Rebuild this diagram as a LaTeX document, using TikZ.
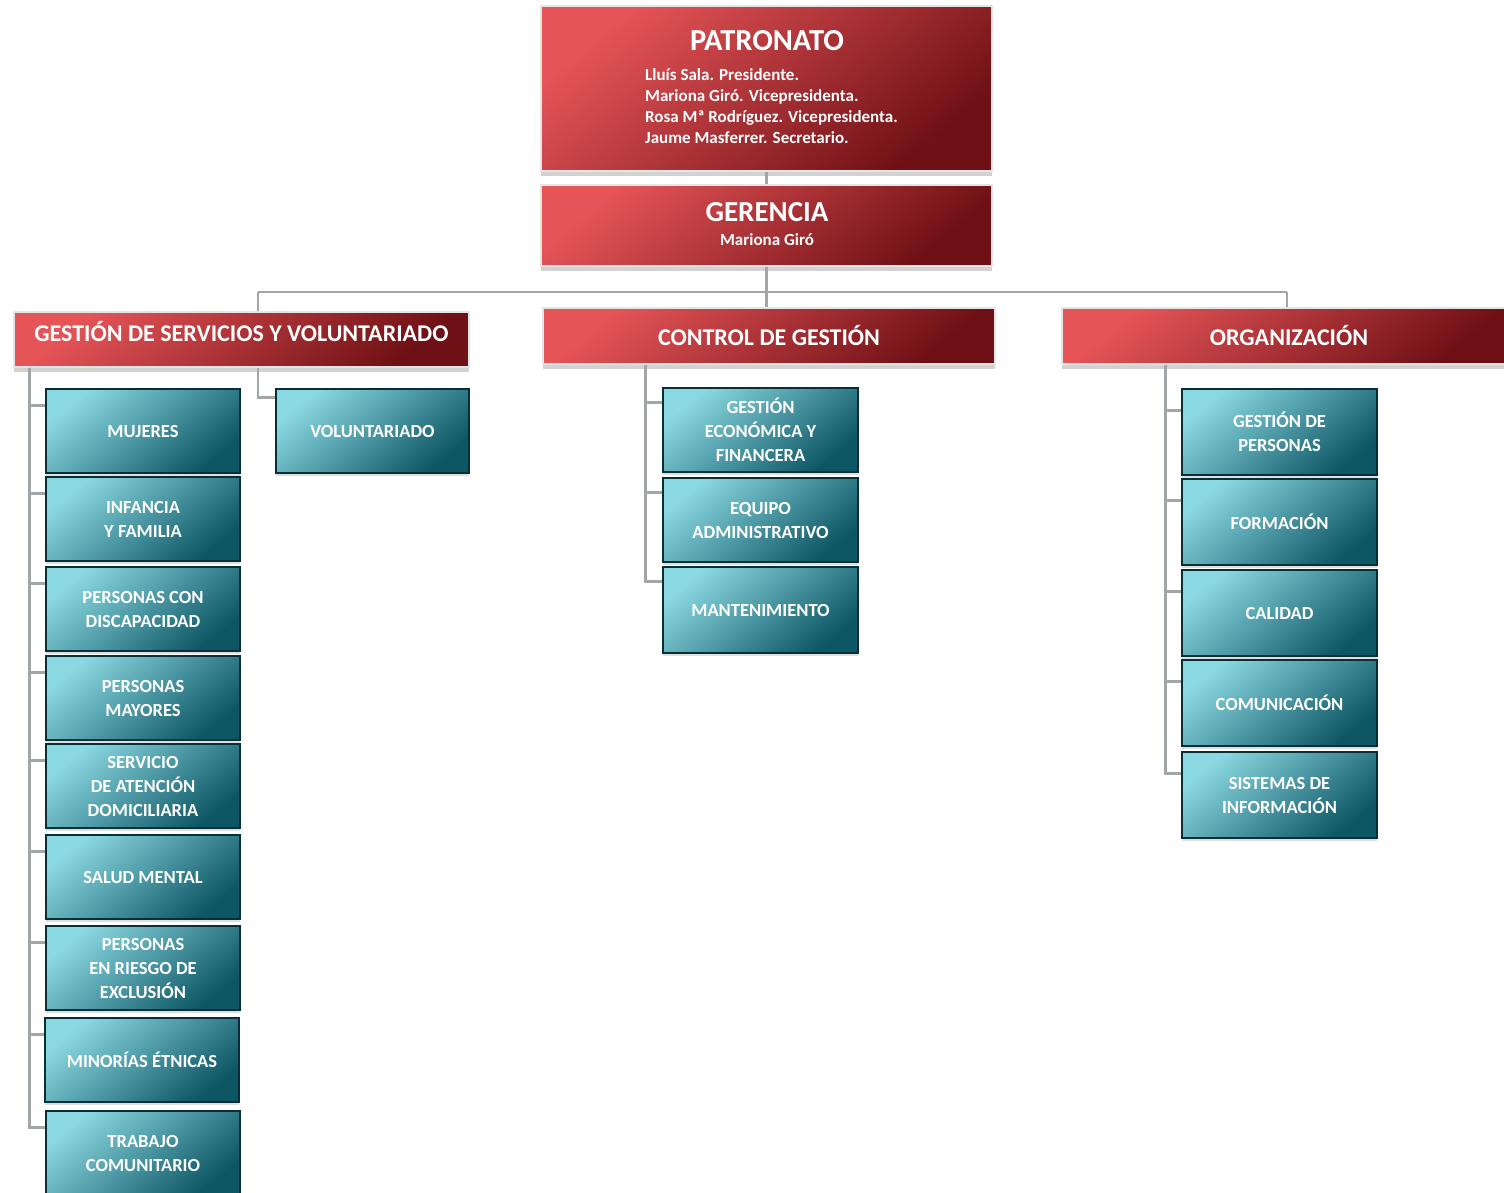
\documentclass[tikz,border=0pt]{standalone}
\usepackage{fontspec}
\setmainfont{Carlito}
\usetikzlibrary{shadows}
\definecolor{rlight}{HTML}{E55457}
\definecolor{rdark}{HTML}{6E1015}
\definecolor{tlight}{HTML}{8AD8E2}
\definecolor{tdark}{HTML}{0D5664}
\definecolor{lineg}{HTML}{A3A6A8}
\tikzset{
  redbox/.style={rectangle, inner sep=0pt, shading=axis, top color=rlight, bottom color=rdark, shading angle=40,
    draw=white!80!gray, line width=1.2pt,
    drop shadow={shadow xshift=0pt, shadow yshift=-5pt, opacity=0.35}},
  tealbox/.style={rectangle, inner sep=0pt, shading=axis, top color=tlight, bottom color=tdark, shading angle=40,
    draw=black!45!tdark, line width=1.2pt, minimum width=194pt, minimum height=84pt,
    text=white, font=\bfseries\fontsize{18.5}{24}\selectfont, align=center,
    drop shadow={shadow xshift=0pt, shadow yshift=-3pt, opacity=0.25}},
  headtext/.style={text=white, font=\bfseries\fontsize{24}{28}\selectfont},
  conn/.style={draw=lineg, line width=2.2pt}
}
\begin{document}
\begin{tikzpicture}[x=1pt,y=-1pt]
\fill[white] (0,0) rectangle (1504,1193);
\useasboundingbox (0,0) rectangle (1504,1193);

% top boxes
\node[redbox, minimum width=451pt, minimum height=165pt] (pat) at (766.5,88.5) {};
\node[text=white, font=\bfseries\fontsize{30.5}{32}\selectfont] (pattitle) at (767,41) {PATRONATO};
\node[text=white, font=\bfseries\fontsize{17}{21}\selectfont, align=left, anchor=west, inner sep=0pt] (patlist) at (645,106.5)
  {Lluís Sala. Presidente.\\Mariona Giró. Vicepresidenta.\\Rosa Mª Rodríguez. Vicepresidenta.\\Jaume Masferrer. Secretario.};

\node[redbox, minimum width=451pt, minimum height=81pt] (ger) at (766.5,225.5) {};
\node[text=white, font=\bfseries\fontsize{29}{31}\selectfont] (gertitle) at (767,212) {GERENCIA};
\node[text=white, font=\bfseries\fontsize{17}{19}\selectfont] (gersub) at (767,240) {Mariona Giró};

% headers
\node[redbox, minimum width=455pt, minimum height=55pt, headtext] (gsv) at (241.5,339.5) {\raisebox{-2pt}[0pt][0pt]{GESTIÓN DE SERVICIOS Y VOLUNTARIADO}};
\node[redbox, minimum width=452pt, minimum height=56pt, headtext] (cdg) at (769,336) {CONTROL DE GESTIÓN};
\node[redbox, minimum width=454pt, minimum height=56pt, headtext] (org) at (1289,336) {ORGANIZACIÓN};

% connectors top
\coordinate (busL) at (258,292);
\coordinate (busR) at (1287,292);
\draw[conn] (pat.south) -- (ger.north);
\draw[conn] (ger.south) -- (ger.south |- busL);
\draw[conn] (busL) -- (busR);
\draw[conn] (busL) -- (busL |- gsv.north);
\draw[conn] (ger.south |- busL) -- (ger.south |- cdg.north);
\draw[conn] (busR) -- (busR |- org.north);

% GSV children
\node[tealbox] (muj) at (143,431) {MUJERES};
\node[tealbox] (inf) at (143,519) {INFANCIA\\Y FAMILIA};
\node[tealbox] (dis) at (143,609) {PERSONAS CON\\DISCAPACIDAD};
\node[tealbox] (may) at (143,698) {PERSONAS\\MAYORES};
\node[tealbox] (sad) at (143,786) {SERVICIO\\DE ATENCIÓN\\DOMICILIARIA};
\node[tealbox] (sal) at (143,877) {SALUD MENTAL};
\node[tealbox] (rie) at (143,968) {PERSONAS\\EN RIESGO DE\\EXCLUSIÓN};
\node[tealbox] (min) at (142,1060) {MINORÍAS ÉTNICAS};
\node[tealbox] (tra) at (143,1153) {TRABAJO\\COMUNITARIO};
\node[tealbox, minimum width=193pt] (vol) at (372.5,431) {VOLUNTARIADO};

\coordinate (gsvsp) at ([xshift=16pt]gsv.south west);
\foreach \c in {muj,inf,dis,may,sad,sal,rie,min,tra}
  \draw[conn] (gsvsp) |- ([yshift=-17pt]\c.north west);
\draw[conn] (busL |- gsv.south) |- ([yshift=-9pt]vol.north west);

% CDG children
\node[tealbox, minimum width=195pt] (eco) at (760.5,430) {GESTIÓN\\ECONÓMICA Y\\FINANCERA};
\node[tealbox, minimum width=195pt] (adm) at (760.5,520) {EQUIPO\\ADMINISTRATIVO};
\node[tealbox, minimum width=195pt, minimum height=86pt] (man) at (760.5,610) {MANTENIMIENTO};
\coordinate (cdgsp) at ([xshift=103pt]cdg.south west);
\foreach \c in {eco,adm,man}
  \draw[conn] (cdgsp) |- ([yshift=-15pt]\c.north west);

% ORG children
\node[tealbox, minimum width=195pt, minimum height=86pt] (per) at (1279.5,432) {GESTIÓN DE\\PERSONAS};
\node[tealbox, minimum width=195pt, minimum height=86pt] (for) at (1279.5,522) {FORMACIÓN};
\node[tealbox, minimum width=195pt, minimum height=86pt] (cal) at (1279.5,613) {CALIDAD};
\node[tealbox, minimum width=195pt, minimum height=86pt] (com) at (1279.5,703) {COMUNICACIÓN};
\node[tealbox, minimum width=195pt, minimum height=86pt] (sis) at (1279.5,795) {SISTEMAS DE\\INFORMACIÓN};
\coordinate (orgsp) at ([xshift=104pt]org.south west);
\foreach \c in {per,for,cal,com,sis}
  \draw[conn] (orgsp) |- ([yshift=-22pt]\c.north west);
\end{tikzpicture}
\end{document}
